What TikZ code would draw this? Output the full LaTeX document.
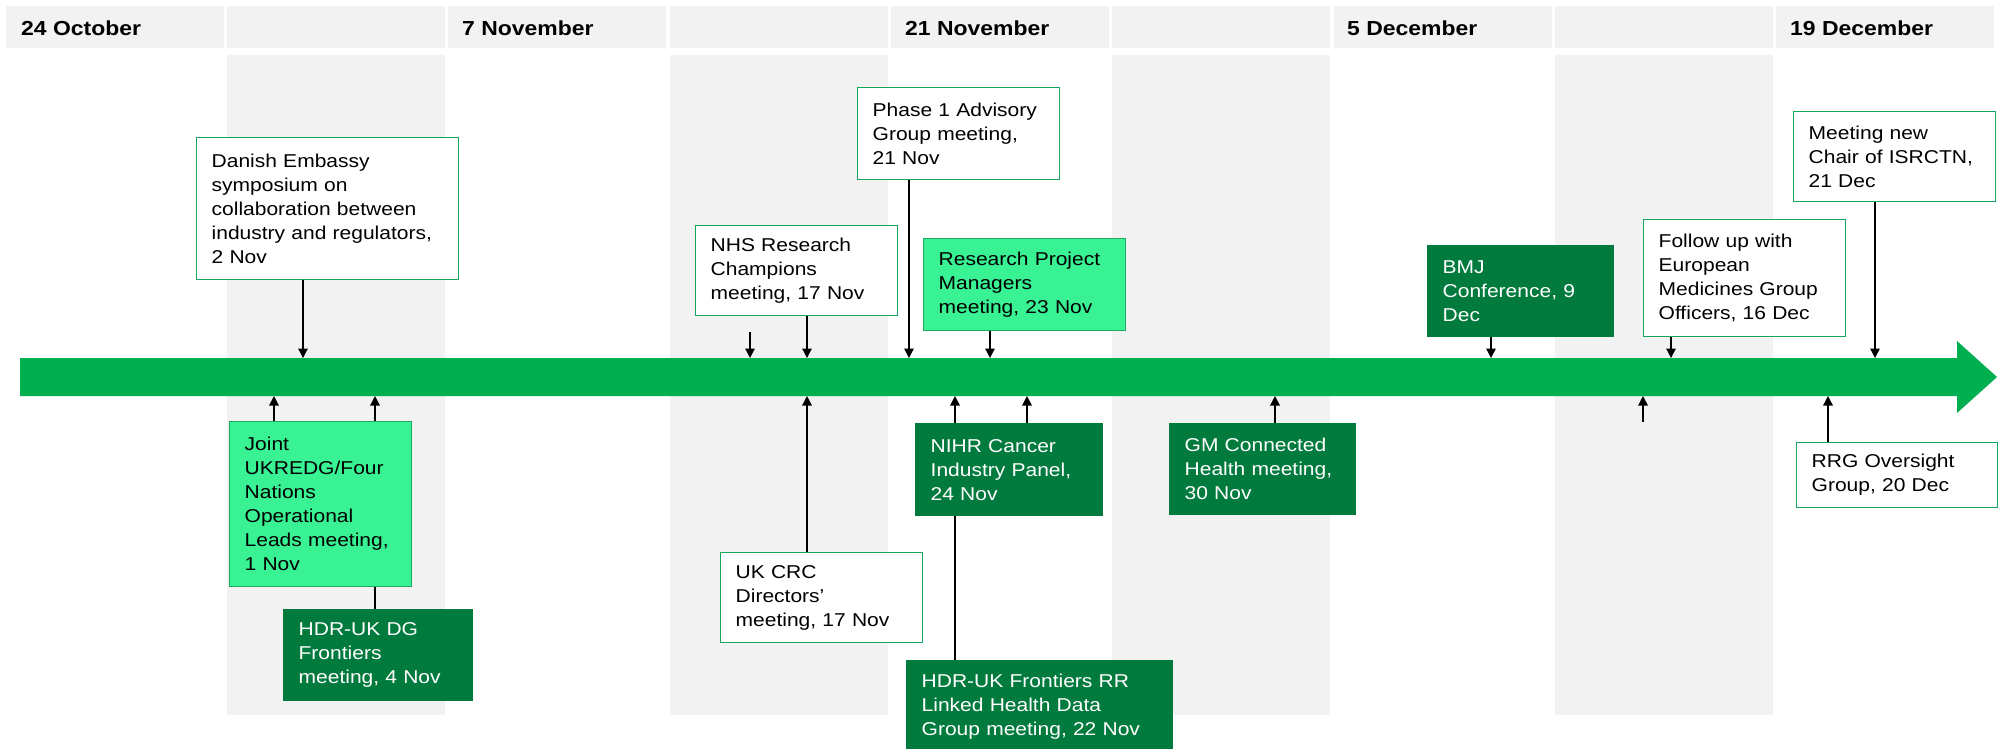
\documentclass[tikz,border=0pt]{standalone}
\usepackage{fontspec}
\setmainfont{Liberation Sans}[FakeStretch=1.13]
\usetikzlibrary{arrows.meta}
\definecolor{colgray}{RGB}{242,242,242}
\definecolor{arrowgreen}{RGB}{0,176,80}
\definecolor{boxgreen}{RGB}{20,165,95}
\definecolor{lightgreen}{RGB}{56,242,148}
\definecolor{lbord}{RGB}{30,170,100}
\definecolor{darkgreen}{RGB}{0,122,61}
\newcommand\evfont{\fontsize{18.6}{24}\selectfont}
\newcommand\hdfont{\fontsize{20.3}{22}\selectfont\bfseries}
\pgfdeclarelayer{bg}
\pgfdeclarelayer{mid}
\pgfsetlayers{bg,mid,main}
\tikzset{
  ev/.style={anchor=north west, inner xsep=15pt, inner ysep=2pt, align=left, font=\evfont, line width=1.3pt},
  wbox/.style={ev, draw=boxgreen, fill=white, text=black},
  lbox/.style={ev, draw=lbord, fill=lightgreen, text=black},
  dbox/.style={ev, draw=darkgreen, fill=darkgreen, text=white},
  conn/.style={line width=1.3pt, -{Triangle[length=9.5pt,width=9.5pt]}},
  hd/.style={anchor=west, font=\hdfont, inner sep=0pt},
  hcell/.style={fill=colgray},
}
\begin{document}
\begin{tikzpicture}[x=1pt,y=-1pt]
\useasboundingbox (0,0) rectangle (2004,749);
\clip (0,0) rectangle (2004,749);
\begin{pgfonlayer}{bg}
  \fill[white] (0,0) rectangle (2004,749);
  % header cells
  \foreach \k in {0,...,8} {
    \fill[hcell] ({5.7+221.33*\k},6) rectangle ({5.7+221.33*\k+218},48);
  }
  % gray body columns
  \foreach \k in {1,3,5,7} {
    \fill[hcell] ({5.7+221.33*\k},55) rectangle ({5.7+221.33*\k+218},715);
  }
  % timeline arrow
  \fill[arrowgreen] (20,358) -- (1957,358) -- (1957,341) -- (1997,377) -- (1957,413) -- (1957,396) -- (20,396) -- cycle;
\end{pgfonlayer}

% header labels
\node[hd] (h1) at (21,28) {24 October};
\node[hd] (h2) at (462,28) {7 November};
\node[hd] (h3) at (905,28) {21 November};
\node[hd] (h4) at (1347,28) {5 December};
\node[hd] (h5) at (1790,28) {19 December};

% event boxes above the line
\node[wbox, text width=232pt, minimum height=142pt] (danish) at (196,137)
  {Danish Embassy\\symposium on\\collaboration between\\industry and regulators,\\2 Nov};
\node[wbox, text width=172pt, minimum height=90pt] (nhs) at (695,225)
  {NHS Research\\Champions\\meeting, 17 Nov};
\node[wbox, text width=172pt, minimum height=92pt] (phase1) at (857,87)
  {Phase 1 Advisory\\Group meeting,\\21 Nov};
\node[lbox, text width=172pt, minimum height=92pt] (rpm) at (923,238)
  {Research Project\\Managers\\meeting, 23 Nov};
\node[dbox, text width=156pt, minimum height=91pt] (bmj) at (1427,245)
  {BMJ\\Conference, 9\\Dec};
\node[wbox, text width=172pt, minimum height=117pt] (follow) at (1643,219)
  {Follow up with\\European\\Medicines Group\\Officers, 16 Dec};
\node[wbox, text width=172pt, minimum height=90pt] (chair) at (1793,111)
  {Meeting new\\Chair of ISRCTN,\\21 Dec};

% event boxes below the line
\node[lbox, text width=152pt, minimum height=165pt] (joint) at (229,421)
  {Joint\\UKREDG/Four\\Nations\\Operational\\Leads meeting,\\1 Nov};
\node[dbox, text width=159pt, minimum height=91pt] (hdrdg) at (283,609)
  {HDR-UK DG\\Frontiers\\meeting, 4 Nov};
\node[wbox, text width=172pt, minimum height=90pt] (ukcrc) at (720,552)
  {UK CRC\\Directors’\\meeting, 17 Nov};
\node[dbox, text width=157pt, minimum height=92pt] (nihr) at (915,423)
  {NIHR Cancer\\Industry Panel,\\24 Nov};
\node[dbox, text width=236pt, minimum height=92pt] (hdrfr) at (906,660)
  {HDR-UK Frontiers RR\\Linked Health Data\\Group meeting, 22 Nov};
\node[dbox, text width=156pt, minimum height=91pt] (gm) at (1169,423)
  {GM Connected\\Health meeting,\\30 Nov};
\node[wbox, text width=171pt, minimum height=65pt] (rrg) at (1796,442)
  {RRG Oversight\\Group, 20 Dec};

% attachment points on the timeline
\coordinate (d1) at (303,358);
\coordinate (f1s) at (750,332);
\coordinate (f1) at (750,358);
\coordinate (d2) at (807,358);
\coordinate (d3) at (909,358);
\coordinate (d4) at (990,358);
\coordinate (d5) at (1491,358);
\coordinate (d6) at (1671,358);
\coordinate (d7) at (1875,358);
\coordinate (u1) at (274,396);
\coordinate (u2) at (375,396);
\coordinate (u3) at (807,396);
\coordinate (u4) at (955,396);
\coordinate (u5) at (1027,396);
\coordinate (u6) at (1275,396);
\coordinate (f2s) at (1643,422);
\coordinate (f2) at (1643,396);
\coordinate (u7) at (1828,396);

\begin{pgfonlayer}{mid}
  \draw[conn] (danish.south -| d1) -- (d1);
  \draw[conn] (f1s) -- (f1);
  \draw[conn] (nhs.south -| d2) -- (d2);
  \draw[conn] (phase1.south -| d3) -- (d3);
  \draw[conn] (rpm.south -| d4) -- (d4);
  \draw[conn] (bmj.south -| d5) -- (d5);
  \draw[conn] (follow.south -| d6) -- (d6);
  \draw[conn] (chair.south -| d7) -- (d7);
  \draw[conn] (joint.north -| u1) -- (u1);
  \draw[conn] (hdrdg.north -| u2) -- (u2);
  \draw[conn] (ukcrc.north -| u3) -- (u3);
  \draw[conn] (hdrfr.north -| u4) -- (u4);
  \draw[conn] (nihr.north -| u5) -- (u5);
  \draw[conn] (gm.north -| u6) -- (u6);
  \draw[conn] (f2s) -- (f2);
  \draw[conn] (rrg.north -| u7) -- (u7);
\end{pgfonlayer}
\end{tikzpicture}
\end{document}
